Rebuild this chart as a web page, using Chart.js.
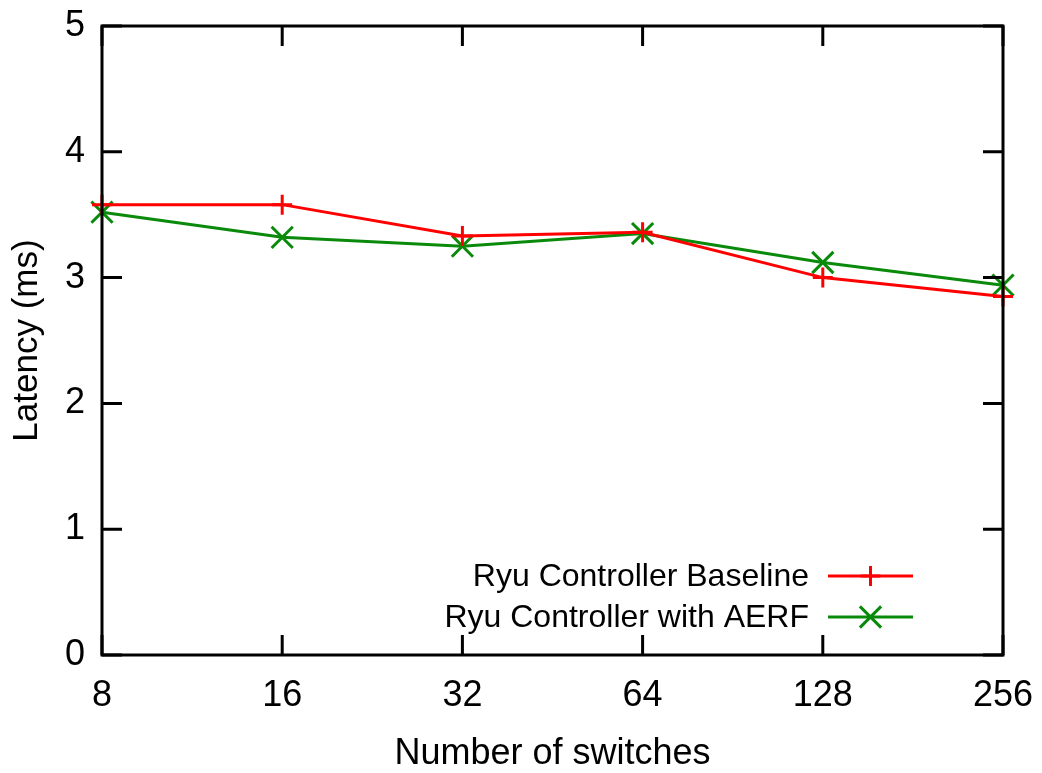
<!DOCTYPE html>
<html>
<head>
<meta charset="utf-8">
<script src="https://cdn.jsdelivr.net/npm/chart.js@4/dist/chart.umd.min.js"></script>
<style>
  html, body { margin: 0; padding: 0; background: #fff; }
  #wrap { width: 1042px; height: 773px; }
</style>
</head>
<body>
<div id="wrap"><canvas id="latencyChart"></canvas></div>
<script>
// switch counts on the x axis
const switchCounts = ['8', '16', '32', '64', '128', '256'];
// latency in ms for each controller setup
const baselineLatency = [3.58, 3.58, 3.33, 3.36, 3.00, 2.85];
const aerfLatency = [3.52, 3.32, 3.25, 3.35, 3.12, 2.94];
const latencyTicks = [0, 1, 2, 3, 4, 5];

const FONT = 'Liberation Sans, Arial, sans-serif';
const TICK_LEN = 20;

// gnuplot-style box: frame plus inward ticks on every side
const frameTicks = {
    id: 'frameTicks',
    afterDatasetsDraw(chart) {
        const {ctx, chartArea: a, scales} = chart;
        ctx.save();
        ctx.strokeStyle = '#000';
        ctx.lineWidth = 3;
        ctx.beginPath();
        scales.y.ticks.forEach((t, i) => {
            const py = scales.y.getPixelForTick(i);
            ctx.moveTo(a.left, py); ctx.lineTo(a.left + TICK_LEN, py);
            ctx.moveTo(a.right, py); ctx.lineTo(a.right - TICK_LEN, py);
        });
        scales.x.ticks.forEach((t, i) => {
            const px = scales.x.getPixelForTick(i);
            ctx.moveTo(px, a.bottom); ctx.lineTo(px, a.bottom - TICK_LEN);
            ctx.moveTo(px, a.top); ctx.lineTo(px, a.top + TICK_LEN);
        });
        ctx.stroke();
        ctx.strokeRect(a.left, a.top, a.right - a.left, a.bottom - a.top);
        ctx.restore();
    }
};

// legend inside the plot, text on the left of the line sample
const innerLegend = {
    id: 'innerLegend',
    afterDatasetsDraw(chart) {
        const {ctx} = chart;
        const textRight = 809;
        const lineX0 = 828, lineX1 = 913;
        const rows = [576, 617];
        ctx.save();
        ctx.font = '32px ' + FONT;
        ctx.textAlign = 'right';
        ctx.textBaseline = 'middle';
        chart.data.datasets.forEach((ds, i) => {
            const y = rows[i];
            ctx.fillStyle = '#000';
            ctx.fillText(ds.label, textRight, y + 1);
            ctx.strokeStyle = ds.borderColor;
            ctx.lineWidth = ds.borderWidth;
            ctx.beginPath();
            ctx.moveTo(lineX0, y); ctx.lineTo(lineX1, y);
            ctx.stroke();
            Chart.helpers.drawPoint(ctx, {
                pointStyle: ds.pointStyle,
                radius: ds.pointRadius,
                borderWidth: ds.pointBorderWidth,
                rotation: 0
            }, (lineX0 + lineX1) / 2, y);
        });
        ctx.restore();
    }
};

new Chart(document.getElementById('latencyChart').getContext('2d'), {
    type: 'line',
    data: {
        labels: switchCounts,
        datasets: [
            {
                label: 'Ryu Controller Baseline',
                data: baselineLatency,
                borderColor: '#ff0000',
                backgroundColor: '#ff0000',
                borderWidth: 3,
                pointStyle: 'cross',
                pointRadius: 10,
                pointBorderWidth: 3,
                pointBorderColor: '#ff0000',
                tension: 0,
                clip: false,
            },
            {
                label: 'Ryu Controller with AERF',
                data: aerfLatency,
                borderColor: '#0a8a0a',
                backgroundColor: '#0a8a0a',
                borderWidth: 3,
                pointStyle: 'crossRot',
                pointRadius: 15,
                pointBorderWidth: 3,
                pointBorderColor: '#0a8a0a',
                tension: 0,
                clip: false,
            },
        ],
    },
    options: {
        responsive: true,
        maintainAspectRatio: false,
        animation: false,
        layout: { padding: { top: 26, right: 39, left: 0, bottom: 0 } },
        plugins: {
            legend: { display: false },
            tooltip: { enabled: false },
        },
        scales: {
            x: {
                type: 'category',
                offset: false,
                grid: { display: false, drawTicks: false },
                border: { display: false },
                ticks: { color: '#000', font: { family: FONT, size: 36 }, padding: 19, maxRotation: 0 },
                title: {
                    display: true,
                    text: 'Number of switches',
                    color: '#000',
                    font: { family: FONT, size: 36 },
                    padding: { top: 0, bottom: -3 },
                },
                afterFit(scale) {
                    scale.height = 118;
                    scale.paddingLeft = 0;
                    scale.paddingRight = 0;
                },
            },
            y: {
                min: 0,
                max: 5,
                grid: { display: false, drawTicks: false },
                border: { display: false },
                afterBuildTicks(scale) { scale.ticks = latencyTicks.map(v => ({value: v})); },
                ticks: { color: '#000', font: { family: FONT, size: 36 }, padding: 17 },
                title: {
                    display: true,
                    text: 'Latency (ms)',
                    color: '#000',
                    font: { family: FONT, size: 35 },
                    padding: { top: 6, bottom: 0 },
                },
                afterFit(scale) {
                    scale.width = 102;
                    scale.paddingTop = 0;
                    scale.paddingBottom = 0;
                },
            },
        },
    },
    plugins: [frameTicks, innerLegend],
});
</script>
</body>
</html>
